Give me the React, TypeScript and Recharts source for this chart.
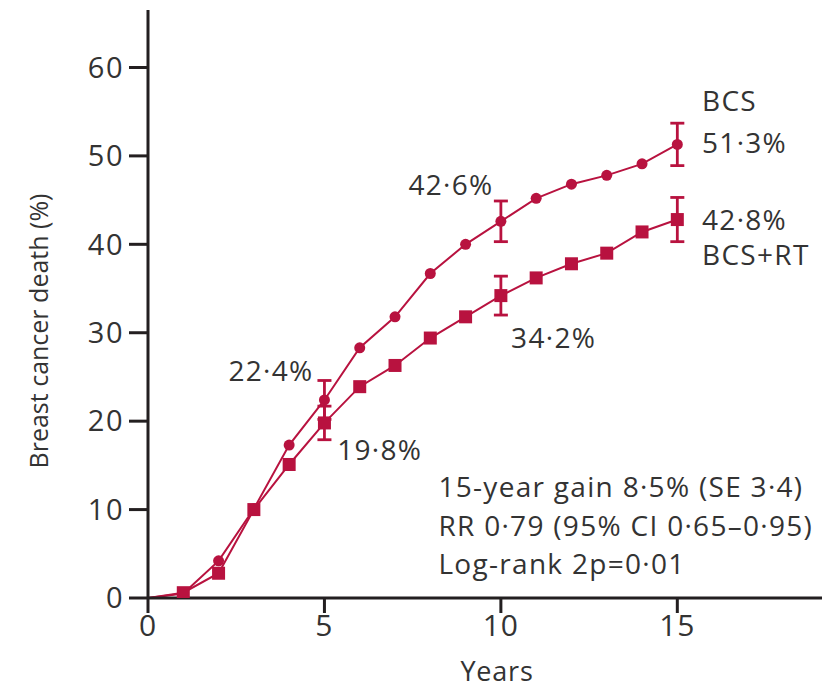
import React from "react";
import {
  ComposedChart,
  Line,
  XAxis,
  YAxis,
  ErrorBar,
  ReferenceDot,
} from "recharts";

const years = [0, 1, 2, 3, 4, 5, 6, 7, 8, 9, 10, 11, 12, 13, 14, 15];
const bcsValues = [0, 0.5, 4.2, 10.1, 17.3, 22.4, 28.3, 31.8, 36.7, 40.0, 42.6, 45.2, 46.8, 47.8, 49.1, 51.3];
const bcsRtValues = [0, 0.6, 2.8, 10.0, 15.1, 19.8, 23.9, 26.3, 29.4, 31.8, 34.2, 36.2, 37.8, 39.0, 41.4, 42.8];
const bcsErrors: (number | undefined)[] = [undefined, undefined, undefined, undefined, undefined, 2.2, undefined, undefined, undefined, undefined, 2.3, undefined, undefined, undefined, undefined, 2.4];
const bcsRtErrors: (number | undefined)[] = [undefined, undefined, undefined, undefined, undefined, 1.9, undefined, undefined, undefined, undefined, 2.2, undefined, undefined, undefined, undefined, 2.5];
const xTicks = [0, 5, 10, 15];
const yTicks = [0, 10, 20, 30, 40, 50, 60];

const notes = [
  { text: "BCS", year: 15.7, value: 56.3 },
  { text: "51·3%", year: 15.7, value: 51.6 },
  { text: "42·6%", year: 7.38, value: 46.8 },
  { text: "42·8%", year: 15.7, value: 42.9 },
  { text: "BCS+RT", year: 15.7, value: 38.95 },
  { text: "34·2%", year: 10.29, value: 29.55 },
  { text: "22·4%", year: 2.28, value: 25.8 },
  { text: "19·8%", year: 5.36, value: 16.8 },
  { text: "15-year gain 8·5% (SE 3·4)", year: 8.23, value: 12.7 },
  { text: "RR 0·79 (95% CI 0·65–0·95)", year: 8.23, value: 8.2 },
  { text: "Log-rank 2p=0·01", year: 8.23, value: 4.0 },
];

const data = years.map((y, i) => ({
  year: y,
  bcs: bcsValues[i],
  bcsRt: bcsRtValues[i],
  bcsErr: bcsErrors[i],
  bcsRtErr: bcsRtErrors[i],
}));

const RED = "#B8123F";
const AXIS = "#231F20";
const TEXT = "#333333";
const FONT = "'Open Sans', 'Noto Sans', sans-serif";

const CircleDot = (props: any) => {
  const { cx, cy, payload } = props;
  if (payload.year === 0 || cx == null || cy == null) return <g />;
  return <circle cx={cx} cy={cy} r={5.5} fill={RED} stroke="none" />;
};

const SquareDot = (props: any) => {
  const { cx, cy, payload } = props;
  if (payload.year === 0 || cx == null || cy == null) return <g />;
  const s = 13;
  return <rect x={cx - s / 2} y={cy - s / 2} width={s} height={s} fill={RED} stroke="none" />;
};

export default function App() {
  return (
    <div style={{ position: "absolute", left: 0, top: 0, width: 828, height: 689, background: "#fff" }}>
      <ComposedChart
        width={828}
        height={689}
        data={data}
        margin={{ top: 10, right: 6, bottom: 31, left: 48 }}
      >
        <XAxis
          dataKey="year"
          type="number"
          domain={[0, 19.1]}
          ticks={xTicks}
          allowDataOverflow
          tickSize={15}
          tickMargin={2}
          height={60}
          axisLine={{ stroke: AXIS, strokeWidth: 3 }}
          tickLine={{ stroke: AXIS, strokeWidth: 3 }}
          tick={{ fontSize: 30, fill: TEXT, fontFamily: FONT, letterSpacing: 1 }}
          label={(props: any) => {
            const vb = props.viewBox;
            return (
              <text
                x={vb.x + vb.width / 2 + 12}
                y={vb.y + 72}
                textAnchor="middle"
                dominantBaseline="central"
                fontSize={27}
                letterSpacing={0.8}
                fill={TEXT}
                fontFamily={FONT}
              >
                Years
              </text>
            );
          }}
        />
        <YAxis
          type="number"
          domain={[0, 66.5]}
          ticks={yTicks}
          allowDataOverflow
          width={100}
          tickSize={19}
          tickMargin={5}
          axisLine={{ stroke: AXIS, strokeWidth: 3 }}
          tickLine={{ stroke: AXIS, strokeWidth: 3 }}
          tick={{ fontSize: 29, fill: TEXT, fontFamily: FONT, letterSpacing: 1.5 }}
          label={(props: any) => {
            const vb = props.viewBox;
            const cx = 38;
            const cy = vb.y + vb.height / 2 + 27;
            return (
              <text
                x={cx}
                y={cy}
                transform={`rotate(-90 ${cx} ${cy})`}
                textAnchor="middle"
                dominantBaseline="central"
                fontSize={25}
                fill={TEXT}
                fontFamily={FONT}
              >
                Breast cancer death (%)
              </text>
            );
          }}
        />
        <Line
          type="linear"
          dataKey="bcs"
          stroke={RED}
          strokeWidth={2}
          dot={<CircleDot />}
          activeDot={false}
          isAnimationActive={false}
        >
          <ErrorBar dataKey="bcsErr" width={7} stroke={RED} strokeWidth={2.8} direction="y" isAnimationActive={false} />
        </Line>
        <Line
          type="linear"
          dataKey="bcsRt"
          stroke={RED}
          strokeWidth={2}
          dot={<SquareDot />}
          activeDot={false}
          isAnimationActive={false}
        >
          <ErrorBar dataKey="bcsRtErr" width={7} stroke={RED} strokeWidth={2.8} direction="y" isAnimationActive={false} />
        </Line>
        {notes.map((n, i) => (
          <ReferenceDot
            key={i}
            x={n.year}
            y={n.value}
            r={0}
            fill="none"
            stroke="none"
            ifOverflow="visible"
            label={(props: any) => {
              const vb = props.viewBox;
              return (
                <text
                  x={vb.x}
                  y={vb.y}
                  textAnchor="start"
                  dominantBaseline="central"
                  fontSize={28}
                  letterSpacing={1.3}
                  fill={TEXT}
                  fontFamily={FONT}
                >
                  {n.text}
                </text>
              );
            }}
          />
        ))}
      </ComposedChart>
    </div>
  );
}
